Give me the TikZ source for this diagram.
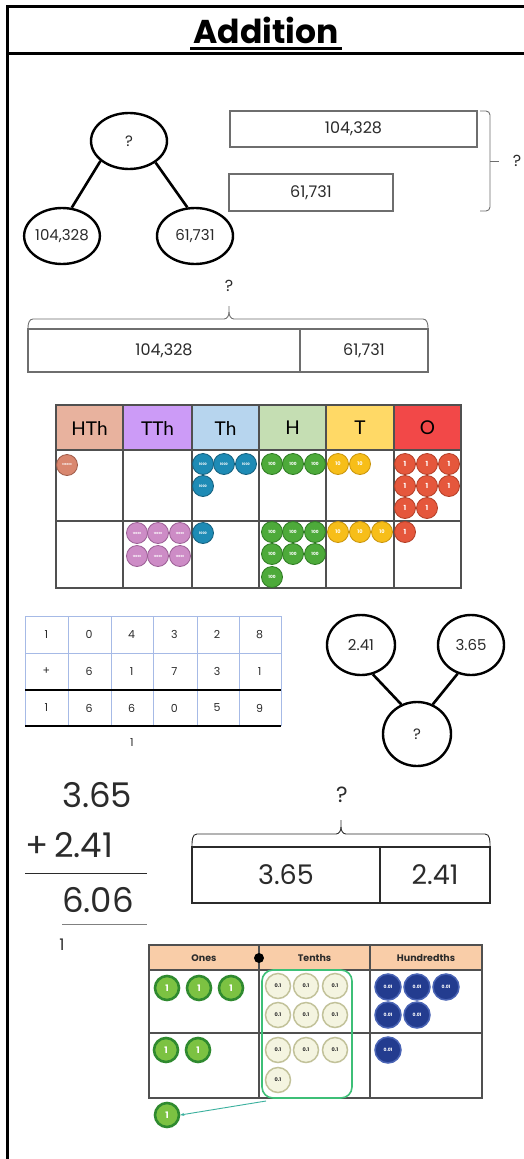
\documentclass[tikz,border=0pt]{standalone}
\usepackage{fontspec}
\setmainfont{Poppins}
\newfontfamily\hdfont{Lato}
\usetikzlibrary{shapes.geometric,decorations.pathreplacing,arrows.meta}
\definecolor{txt}{HTML}{2B2B2B}
\definecolor{bargray}{HTML}{6E6E6E}
\definecolor{gridblue}{HTML}{A6BAE6}
\definecolor{hthh}{HTML}{E8B29E}
\definecolor{tthh}{HTML}{CC9BF7}
\definecolor{thh}{HTML}{B7D5EE}
\definecolor{hh}{HTML}{C5DEB3}
\definecolor{th}{HTML}{FFD966}
\definecolor{oh}{HTML}{F24848}
\definecolor{hthc}{HTML}{D9876F}\definecolor{hthd}{HTML}{9E5B49}
\definecolor{tthc}{HTML}{CD8CC6}\definecolor{tthd}{HTML}{9A5E94}
\definecolor{thc}{HTML}{1E8BB5}\definecolor{thd}{HTML}{155F7D}
\definecolor{hc}{HTML}{4DAA3A}\definecolor{hd}{HTML}{2E7A22}
\definecolor{tc}{HTML}{F7BE19}\definecolor{td}{HTML}{C8930A}
\definecolor{oc}{HTML}{E5573C}\definecolor{od}{HTML}{B23E26}
\definecolor{peach}{HTML}{F9CDA8}
\definecolor{dgrid}{HTML}{505050}
\definecolor{onesin}{HTML}{7CC242}\definecolor{onesout}{HTML}{2F8A2F}
\definecolor{tenin}{HTML}{F4F4E0}\definecolor{tenout}{HTML}{C2C29A}
\definecolor{hunin}{HTML}{233C8F}\definecolor{hunout}{HTML}{4A64B5}
\definecolor{grn}{HTML}{3DBF77}
\definecolor{teal}{HTML}{3AB09E}
\tikzset{
  pw/.style={ellipse, draw, line width=2.4pt, inner sep=0pt, text=txt, font=\fontsize{15}{15}\selectfont},
  pwline/.style={line width=2.6pt},
  barbox/.style={draw=bargray, line width=1.1pt, inner sep=0pt, text=txt, font=\fontsize{16}{16}\selectfont},
  brk/.style={draw=bargray, line width=0.9pt},
  hdr/.style={anchor=center, font=\hdfont\fontsize{19}{19}\selectfont, text=black},
  pvc/.style={circle, inner sep=0pt, minimum size=21pt, line width=0.8pt, text=white},
  cell/.style={font=\fontsize{11}{11}\selectfont, text=txt},
  big/.style={font=\fontsize{34}{34}\selectfont, text=txt, inner sep=0pt},
  onesc/.style={circle, inner sep=0pt, minimum size=24pt, fill=onesin, draw=onesout, line width=2.6pt, text=white, font=\bfseries\fontsize{9}{9}\selectfont},
  tenc/.style={circle, inner sep=0pt, minimum size=25pt, fill=tenin, draw=tenout, line width=1.5pt, text=txt, font=\bfseries\fontsize{5}{5}\selectfont},
  hunc/.style={circle, inner sep=0pt, minimum size=26pt, fill=hunin, draw=hunout, line width=1.5pt, text=white, font=\bfseries\fontsize{4.5}{5}\selectfont},
  dhdr/.style={font=\bfseries\fontsize{9.5}{10}\selectfont, text=txt}
}
\begin{document}
\begin{tikzpicture}[x=1pt,y=-1pt]
\useasboundingbox (0,0) rectangle (524,1159);
\fill[white] (0,0) rectangle (524,1159);
% frame
\draw[line width=3pt] (7,1160) -- (7,6) -- (525,6);
\draw[line width=3pt] (7,53) -- (525,53);
\node[anchor=base, font=\bfseries\fontsize{33}{33}\selectfont, inner sep=0pt] (title) at (266,43) {Addition};
\draw[line width=2.2pt] (190,48.5) -- (342,48.5);

% part-whole 1
\node[pw, minimum width=76pt, minimum height=56pt] (pwtop) at (129,141) {?};
\node[pw, minimum width=70pt, minimum height=56pt] (pwl) at (62,236) {104,328};
\node[pw, minimum width=76pt, minimum height=56pt] (pwr) at (195,236) {61,731};
\draw[pwline] (pwtop.215) -- (pwl.71);
\draw[pwline] (pwtop.321) -- (pwr.105);

% vertical bar model
\node[barbox, minimum width=247pt, minimum height=36pt] (b1) at (353.5,129) {104,328};
\node[barbox, minimum width=164pt, minimum height=37pt] (b2) at (311,192.5) {61,731};
\draw[brk, rounded corners=4pt] (480,111) -- (490,111) -- (490,161) -- (490,211) -- (480,211);
\draw[brk] (490,161) -- (499,161);
\node[text=txt, font=\fontsize{16}{16}\selectfont] (q1) at (517,161) {?};

% horizontal bar model
\node[barbox, minimum width=272pt, minimum height=43pt] (h1) at (164,350.5) {104,328};
\node[barbox, minimum width=128pt, minimum height=43pt] (h2) at (364,350.5) {61,731};
\draw[brk] (28,328) to[out=90,in=180] (33,319) -- (224,319) to[out=0,in=-90] (229,312) -- (229,306);
\draw[brk] (229,312) to[out=-90,in=180] (234,319) -- (423,319) to[out=0,in=90] (428,328);
\node[text=txt, font=\fontsize{16}{16}\selectfont] (q2) at (229,286) {?};

% place value chart
\fill[hthh] (56,405) rectangle (123,450);
\fill[tthh] (123,405) rectangle (192,450);
\fill[thh] (192,405) rectangle (259,450);
\fill[hh] (259,405) rectangle (326,450);
\fill[th] (326,405) rectangle (394,450);
\fill[oh] (394,405) rectangle (461,450);
\draw[line width=1.3pt, draw=dgrid] (56,405) rectangle (461,588);
\foreach \x in {123,192,259,326,394} \draw[line width=1.3pt, draw=dgrid] (\x,405) -- (\x,588);
\draw[line width=1.3pt, draw=dgrid] (56,450) -- (461,450);
\draw[line width=1.3pt, draw=dgrid] (56,521) -- (461,521);
\node[hdr] (hHTh) at (89.5,428) {HTh};
\node[hdr] (hTTh) at (157.5,428) {TTh};
\node[hdr] (hTh) at (225.5,428) {Th};
\node[hdr] (hH) at (292.5,428) {H};
\node[hdr] (hT) at (360,428) {T};
\node[hdr] (hO) at (427.5,428) {O};
% counters
\node[pvc, fill=hthc, draw=hthd, font=\bfseries\fontsize{2.6}{3}\selectfont] (hth1) at (67,465) {100000};
\foreach \x/\y [count=\i] in {137/533,158/533,180/533,137/556,158/556,180/556}
  \node[pvc, fill=tthc, draw=tthd, font=\bfseries\fontsize{2.8}{3}\selectfont] (tth\i) at (\x,\y) {10000};
\foreach \x/\y [count=\i] in {203/464,224/464,246/464,203/486,203/533}
  \node[pvc, fill=thc, draw=thd, font=\bfseries\fontsize{3.3}{4}\selectfont] (thc\i) at (\x,\y) {1000};
\foreach \x/\y [count=\i] in {272/464,293/464,315/464,272/532,293/532,315/532,272/554,293/554,315/554,272/577}
  \node[pvc, fill=hc, draw=hd, font=\bfseries\fontsize{4.3}{5}\selectfont] (hc\i) at (\x,\y) {100};
\foreach \x/\y [count=\i] in {338/464,360/464,338/532,360/532,382/532}
  \node[pvc, fill=tc, draw=td, font=\bfseries\fontsize{5}{5}\selectfont] (tc\i) at (\x,\y) {10};
\foreach \x/\y [count=\i] in {405/464,427/464,449/464,405/486,427/486,449/486,405/508,427/508,405/532}
  \node[pvc, fill=oc, draw=od, font=\bfseries\fontsize{7}{7}\selectfont] (oc\i) at (\x,\y) {1};

% column addition
\foreach \x in {25,68,111,153,197,239,281} \draw[draw=gridblue, line width=1pt] (\x,616) -- (\x,726);
\foreach \y in {616,653} \draw[draw=gridblue, line width=1pt] (25,\y) -- (281,\y);
\draw[line width=1.4pt] (25,690) -- (281,690);
\draw[line width=1.4pt] (25,726) -- (281,726);
\foreach \d [count=\i] in {1,0,4,3,2,8} \node[cell] (ra\i) at ({25+(\i-0.5)*42.67},634.5) {\d};
\foreach \d [count=\i] in {+,6,1,7,3,1} \node[cell] (rb\i) at ({25+(\i-0.5)*42.67},671.5) {\d};
\foreach \d [count=\i] in {1,6,6,0,5,9} \node[cell] (rc\i) at ({25+(\i-0.5)*42.67},708) {\d};
\node[cell] (carry1) at (132,743) {1};

% part-whole 2
\node[pw, minimum width=68pt, minimum height=60pt] (pa) at (361,645) {2.41};
\node[pw, minimum width=66pt, minimum height=60pt] (pb) at (471,645) {3.65};
\node[pw, minimum width=68pt, minimum height=64pt] (pc) at (417,734) {?};
\draw[pwline] (pa.292) -- (pc.118);
\draw[pwline] (pb.245) -- (pc.62);

% decimal column addition
\node[big, anchor=base west] (d1) at (62,807) {3.65};
\node[big, anchor=base west] (d2) at (25,857) {+\,2.41};
\node[big, anchor=base west] (d3) at (62,912) {6.06};
\draw[line width=1pt, draw=txt] (25,873) -- (147,873);
\draw[line width=1pt, draw=gray] (62,924) -- (147,924);
\node[text=txt, font=\fontsize{16}{16}\selectfont] (carry2) at (62,945) {1};

% bar model 3
\node[barbox, draw=txt, minimum width=188pt, minimum height=56pt, font=\fontsize{27}{27}\selectfont] (c1) at (286,875) {3.65};
\node[barbox, draw=txt, minimum width=110pt, minimum height=56pt, font=\fontsize{27}{27}\selectfont] (c2) at (435,875) {2.41};
\draw[brk, draw=txt] (192,846) to[out=90,in=180] (197,834) -- (336,834) to[out=0,in=-90] (341,827) -- (341,820);
\draw[brk, draw=txt] (341,827) to[out=-90,in=180] (346,834) -- (485,834) to[out=0,in=90] (490,846);
\node[text=txt, font=\fontsize{22}{22}\selectfont] (q3) at (342,795) {?};

% decimal place value chart
\fill[peach] (149,945) rectangle (482,970);
\draw[line width=1.3pt, draw=dgrid] (149,945) rectangle (482,1098);
\draw[line width=1.3pt, draw=dgrid] (149,970) -- (482,970);
\draw[line width=1.3pt, draw=dgrid] (149,1033) -- (482,1033);
\draw[line width=1.3pt, draw=dgrid] (259,945) -- (259,1098);
\draw[line width=1.3pt, draw=dgrid] (370,945) -- (370,1098);
\fill (259,958) circle (5);
\node[dhdr] (dOnes) at (204,958) {Ones};
\node[dhdr] (dTenths) at (314.5,958) {Tenths};
\node[dhdr] (dHund) at (426,958) {Hundredths};
\node[draw=grn, line width=1.6pt, rounded corners=11pt, minimum width=90pt, minimum height=128pt, inner sep=0pt] (grp) at (307,1034) {};
\foreach \x/\y [count=\i] in {167/988,199/988,231/988,166/1050,198/1050}
  \node[onesc] (one\i) at (\x,\y) {1};
\node[onesc] (one6) at (167,1115) {1};
\foreach \x/\y [count=\i] in {278/986,306/986,335/986,278/1015,306/1015,335/1015,278/1050,306/1050,335/1050,278/1080}
  \node[tenc] (ten\i) at (\x,\y) {0.1};
\foreach \x/\y [count=\i] in {388/987,417/987,446/987,388/1015,417/1015,388/1050}
  \node[hunc] (hun\i) at (\x,\y) {0.01};
\coordinate (arrS) at (266,1101);
\draw[draw=teal, line width=0.9pt, -{Stealth[length=4pt,width=3pt]}] (arrS) -- (one6.east);
\end{tikzpicture}
\end{document}
